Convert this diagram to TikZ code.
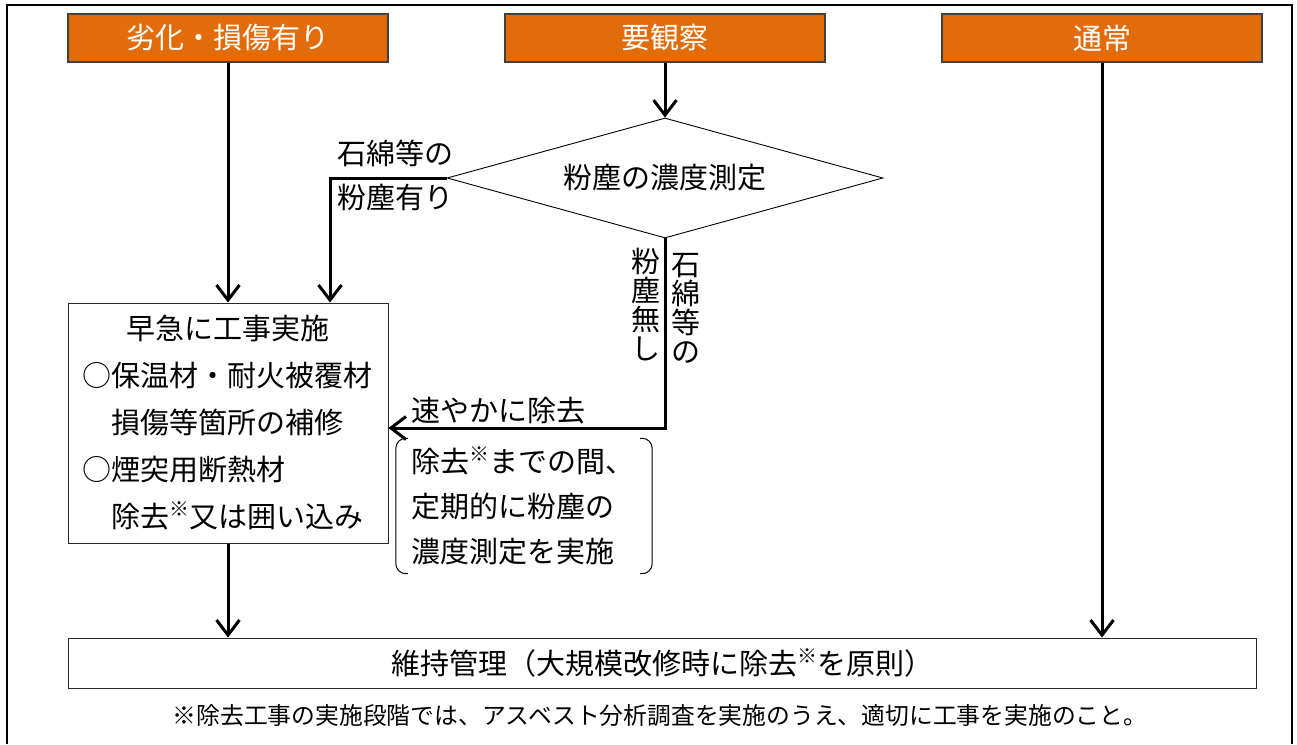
\documentclass[tikz,border=0pt]{standalone}
\usepackage{fontspec}
\setmainfont{Noto Sans CJK JP}
\usetikzlibrary{arrows.meta,shapes.geometric}
\definecolor{hdrorange}{HTML}{E36C0A}
\newcommand{\kome}{\raisebox{0.38em}{\fontsize{20pt}{20pt}\selectfont ※}}

\begin{document}
\begin{tikzpicture}[x=1pt,y=-1pt,
		hdr/.style={draw=black!75, line width=1.2pt, fill=hdrorange, text=white, minimum width=320pt, minimum height=48pt, inner sep=0pt, font=\fontsize{29pt}{35pt}\selectfont},
		plainbox/.style={draw=black!85, line width=1pt, inner sep=0pt, font=\fontsize{29pt}{35pt}\selectfont},
		decision/.style={draw, line width=0.9pt, shape=diamond, aspect=3.63, minimum width=436pt, minimum height=120pt, inner sep=0pt, font=\fontsize{29pt}{35pt}\selectfont},
		lbl/.style={inner sep=0pt, font=\fontsize{29pt}{35pt}\selectfont},
		vlbl/.style={inner sep=0pt, align=center, font=\fontsize{29pt}{29pt}\selectfont},
		arr/.style={line width=3pt, -{Straight Barb[length=15pt,width=23pt]}},
		bracket/.style={line width=1pt, rounded corners=10pt}]
		\useasboundingbox (0,0) rectangle (1297,744);

		% outer frame
		\draw[line width=2pt] (7,744) -- (7,5) -- (1292,5) -- (1292,744);

		\node[hdr] (damaged) at (228,38) {劣化・損傷有り};
		\node[hdr] (observe) at (665,38) {要観察};
		\node[hdr] (normal) at (1102,38) {通常};

		\node[decision] (measure) at (665,178) {粉塵の濃度測定};

		\node[plainbox, minimum width=320pt, minimum height=240pt, text width=292pt, align=left, font=\fontsize{29pt}{47pt}\selectfont] (urgent) at (228,423) {\makebox[292pt]{早急に工事実施}\\○保温材・耐火被覆材\\\hspace*{1em}損傷等箇所の補修\\○煙突用断熱材\\\hspace*{1em}除去\kome 又は囲い込み};

		\node[plainbox, minimum width=1188pt, minimum height=50pt] (keep) at (662,663) {維持管理（大規模改修時に除去\kome を原則）};
		\node[inner sep=0pt, font=\fontsize{23.8pt}{28pt}\selectfont] (note) at (660,716) {※除去工事の実施段階では、アスベスト分析調査を実施のうえ、適切に工事を実施のこと。};

		% branch labels
		\node[lbl, anchor=west] (withdust) at (337,153) {石綿等の};
		\node[lbl, anchor=west] (withdustb) at (337,198) {粉塵有り};
		\node[vlbl] (nodust) at (646,305) {粉\\塵\\無\\し};
		\node[vlbl] (nodustb) at (686,308) {石\\綿\\等\\の};
		\node[lbl, anchor=west] (promptly) at (411,411) {速やかに除去};

		\node[inner sep=0pt, minimum width=256pt, minimum height=135pt, text width=226pt, align=left, font=\fontsize{29pt}{45pt}\selectfont] (interim) at (524,506) {除去\kome までの間、\\定期的に粉塵の\\濃度測定を実施};
		\draw[bracket] ([xshift=12pt]interim.north west) -- (interim.north west) -- (interim.south west) -- ([xshift=12pt]interim.south west);
		\draw[bracket] ([xshift=-12pt]interim.north east) -- (interim.north east) -- (interim.south east) -- ([xshift=-12pt]interim.south east);

		\coordinate (leftturn) at (330,178);
		\coordinate (downturn) at (665,428);

		\draw[arr] (damaged.south) -- (urgent.north);
		\draw[arr] (observe.south) -- (measure.north);
		\draw[arr] (measure.west) -- (leftturn) -- (leftturn |- urgent.north);
		\draw[arr] (measure.south) -- (downturn) -- (downturn -| urgent.east);
		\draw[arr] (urgent.south) -- (keep.north -| urgent.south);
		\draw[arr] (normal.south) -- (keep.north -| normal.south);
	\end{tikzpicture}
\end{document}
